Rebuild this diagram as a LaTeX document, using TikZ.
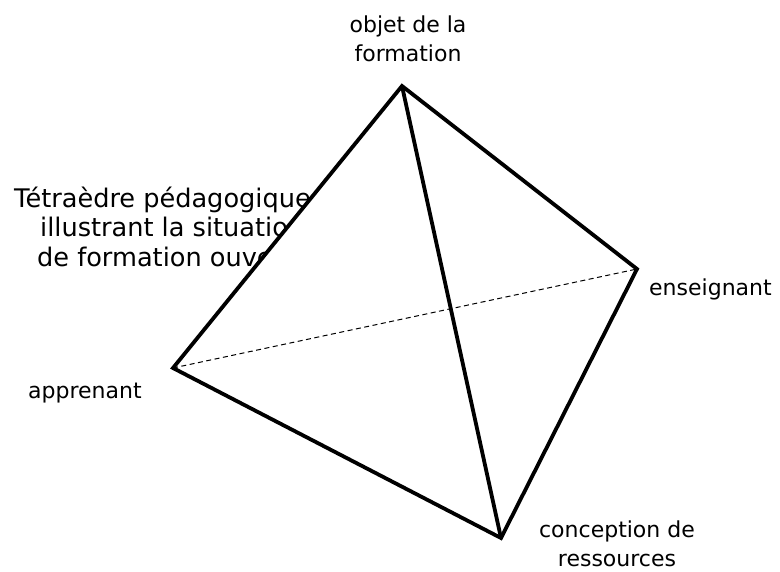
\documentclass[tikz,border=0pt]{standalone}
\usepackage{fontspec}
\setmainfont{DejaVu Sans}
\begin{document}
\begin{tikzpicture}[x=1pt,y=-1pt,
  lbl/.style={inner sep=0pt,font=\fontsize{22}{29}\selectfont,align=center},
  edge/.style={line width=3.8pt,line join=miter},
  hidden/.style={line width=1pt,dash pattern=on 5pt off 3.5pt}]
\useasboundingbox (0,0) rectangle (780,571);
\node[inner sep=0pt,anchor=base west,align=left,font=\fontsize{25.6}{29.5}\selectfont] (title) at (14,266)
  {Tétraèdre pédagogique\\\hspace{26pt}illustrant la situation\\\hspace{23pt}de formation ouverte};
\coordinate (O) at (402,86);
\coordinate (A) at (173,368);
\coordinate (E) at (637,269);
\coordinate (C) at (501,538);
\fill[white] (A) -- (O) -- (E) -- (C) -- cycle;
\draw[hidden] (A) -- (E);
\draw[edge] (A) -- (O) -- (E) -- (C) -- cycle;
\draw[edge] (O) -- (C);
\node[lbl,anchor=base] (lo) at (408,61) {objet de la\\formation};
\node[lbl,anchor=base west] (le) at (649,295) {enseignant};
\node[lbl,anchor=base west] (la) at (28,398) {apprenant};
\node[lbl,anchor=base] (lc) at (617,566) {conception de\\ressources};
\end{tikzpicture}
\end{document}
